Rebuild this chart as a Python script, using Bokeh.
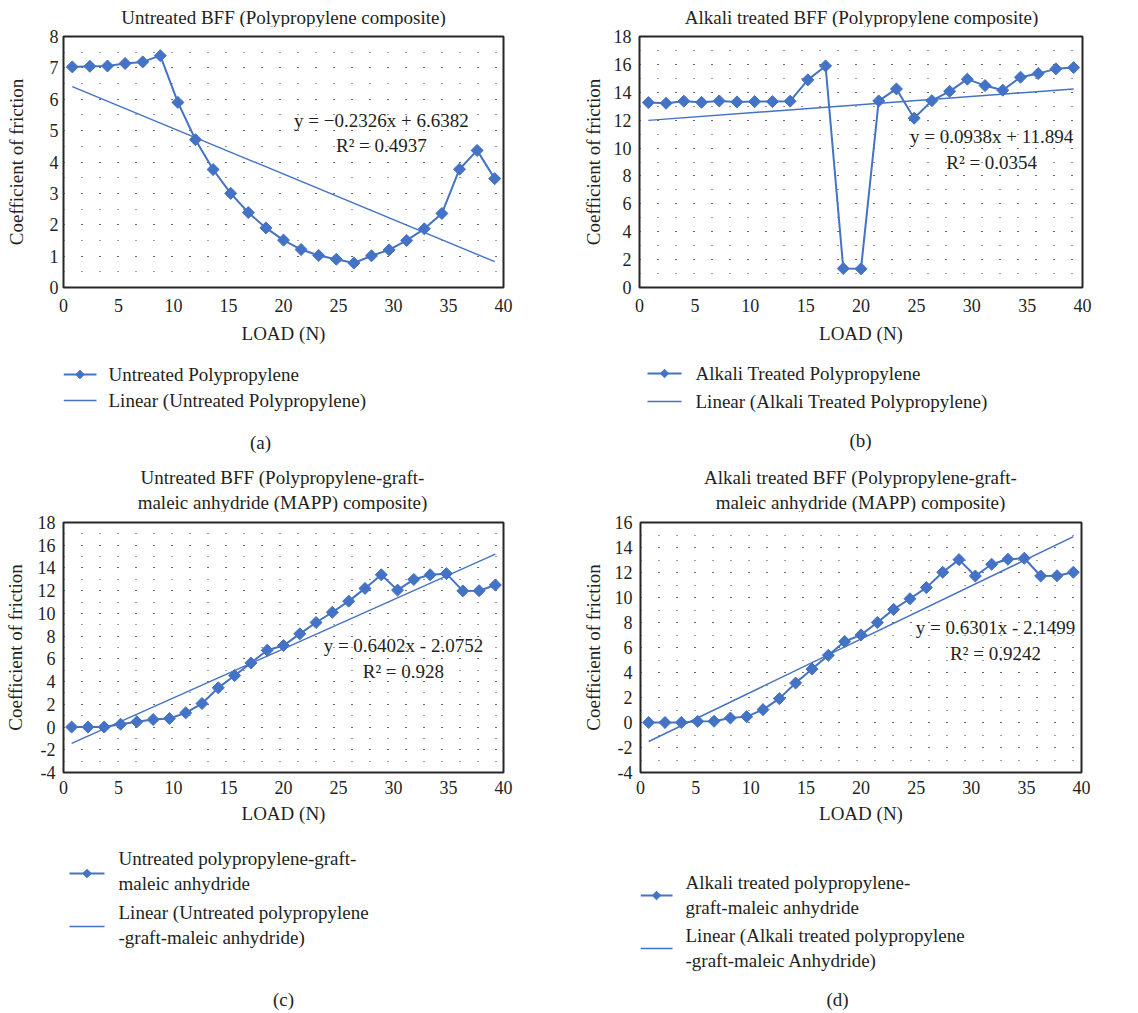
import math
from bokeh.plotting import figure
from bokeh.models import Range1d, SingleIntervalTicker, Label
from bokeh.core.properties import value
from bokeh.layouts import column, row
from bokeh.embed import file_html
from bokeh.resources import INLINE

# ---------------- data ----------------
load_a = [0.8, 2.4, 4.0, 5.6, 7.2, 8.8, 10.4, 12.0, 13.6, 15.2, 16.8, 18.4, 20.0,
          21.6, 23.2, 24.8, 26.4, 28.0, 29.6, 31.2, 32.8, 34.4, 36.0, 37.6, 39.2]
load_c = [0.74, 2.22, 3.70, 5.19, 6.67, 8.15, 9.63, 11.11, 12.59, 14.07, 15.56, 17.04,
          18.52, 20.00, 21.48, 22.96, 24.44, 25.93, 27.41, 28.89, 30.37, 31.85, 33.33,
          34.81, 36.30, 37.78, 39.26]

untreated_pp = [7.03, 7.05, 7.06, 7.14, 7.19, 7.39, 5.90, 4.71, 3.76, 3.00, 2.39, 1.90,
                1.51, 1.21, 1.02, 0.90, 0.78, 1.01, 1.20, 1.50, 1.87, 2.36, 3.77, 4.37, 3.47]
alkali_pp = [13.26, 13.21, 13.36, 13.28, 13.38, 13.31, 13.33, 13.33, 13.36, 14.89, 15.89,
             1.36, 1.34, 13.38, 14.24, 12.14, 13.40, 14.07, 14.94, 14.48, 14.15, 15.08,
             15.34, 15.68, 15.77]
untreated_mapp = [0.0, 0.0, 0.0, 0.25, 0.46, 0.66, 0.75, 1.25, 2.07, 3.45, 4.53, 5.64,
                  6.76, 7.17, 8.20, 9.20, 10.10, 11.08, 12.20, 13.40, 12.05, 12.99, 13.40,
                  13.50, 11.98, 12.00, 12.50]
alkali_mapp = [0.0, 0.0, 0.0, 0.09, 0.10, 0.36, 0.47, 1.03, 1.91, 3.16, 4.28, 5.38, 6.48,
               7.01, 8.00, 9.05, 9.90, 10.79, 12.02, 13.03, 11.72, 12.66, 13.06, 13.14,
               11.72, 11.74, 12.02]

fit_a = (-0.2326, 6.6382)
fit_b = (0.0938, 11.894)
fit_c = (0.6402, -2.0752)
fit_d = (0.6301, -2.1499)

eq_a = ["y = \u22120.2326x + 6.6382", "R\u00b2 = 0.4937"]
eq_b = ["y = 0.0938x + 11.894", "R\u00b2 = 0.0354"]
eq_c = ["y = 0.6402x - 2.0752", "R\u00b2 = 0.928"]
eq_d = ["y = 0.6301x - 2.1499", "R\u00b2 = 0.9242"]

title_a = ["Untreated BFF (Polypropylene composite)"]
title_b = ["Alkali treated BFF (Polypropylene composite)"]
title_c = ["Untreated BFF (Polypropylene-graft-", "maleic anhydride (MAPP) composite)"]
title_d = ["Alkali treated BFF (Polypropylene-graft-", "maleic anhydride (MAPP) composite)"]
legend_a = [["Untreated Polypropylene"], ["Linear (Untreated Polypropylene)"]]
legend_b = [["Alkali Treated Polypropylene"], ["Linear (Alkali Treated Polypropylene)"]]
legend_c = [["Untreated polypropylene-graft-", "maleic anhydride"],
            ["Linear (Untreated polypropylene", "-graft-maleic anhydride)"]]
legend_d = [["Alkali treated polypropylene-", "graft-maleic anhydride"],
            ["Linear (Alkali treated polypropylene", "-graft-maleic Anhydride)"]]
captions = ["(a)", "(b)", "(c)", "(d)"]
x_label = "LOAD (N)"
y_label = "Coefficient of friction"
neg_tick_text = {-2: "-2", -4: "-4"}

FONT = "Liberation Serif"
BLUE = "#4472C4"
TXT = "#231F20"


def strip(width, height, left, right):
    """An axis-less figure whose data units are the strip's own pixels
    (x from strip left, y downward)."""
    return figure(width=width, height=height, x_range=Range1d(left, width - right),
                  y_range=Range1d(height, 0), output_backend="svg",
                  toolbar_location=None, x_axis_type=None, y_axis_type=None,
                  min_border_left=left, min_border_right=right, min_border_top=0,
                  min_border_bottom=0, outline_line_color=None)


def title_panel(width, height, left, right, lines, ys, cx):
    f = strip(width, height, left, right)
    f.text(x=[cx] * len(lines), y=ys, text=lines, text_font=value(FONT),
           text_font_size="19px", text_color=TXT, text_baseline="middle",
           text_align="center")
    return f


def plot_panel(width, height, borders, xs, ys, yr, ystep, fit, eq, eq_pos,
               ylab_standoff, ytick_standoff, xtick_standoff, xlab_standoff):
    left, right, top, bottom = borders
    p = figure(width=width, height=height, x_range=Range1d(0, 40),
               y_range=Range1d(*yr), output_backend="svg", toolbar_location=None,
               min_border_left=left, min_border_right=right,
               min_border_top=top, min_border_bottom=bottom)
    p.outline_line_color = "#262626"
    p.outline_line_width = 2
    p.background_fill_color = "white"
    p.border_fill_color = "white"

    p.xaxis.ticker = SingleIntervalTicker(interval=5, num_minor_ticks=0)
    p.yaxis.ticker = SingleIntervalTicker(interval=ystep, num_minor_ticks=2)
    p.yaxis.major_label_overrides = {k: v for k, v in neg_tick_text.items()
                                     if yr[0] <= k <= yr[1]}
    for ax in (p.xaxis, p.yaxis):
        ax.axis_line_color = None
        ax.major_tick_line_color = None
        ax.minor_tick_line_color = None
        ax.major_tick_out = 0
        ax.major_tick_in = 0
        ax.minor_tick_out = 0
        ax.minor_tick_in = 0
        ax.major_label_text_font = FONT
        ax.major_label_text_font_size = "18px"
        ax.major_label_text_color = TXT
        ax.axis_label_text_font = FONT
        ax.axis_label_text_font_size = "19px"
        ax.axis_label_text_font_style = "normal"
        ax.axis_label_text_color = TXT
    p.xaxis.axis_label = x_label
    p.yaxis.axis_label = y_label
    p.xaxis.major_label_standoff = xtick_standoff
    p.xaxis.axis_label_standoff = xlab_standoff
    p.yaxis.major_label_standoff = ytick_standoff
    p.yaxis.axis_label_standoff = ylab_standoff

    p.xgrid.grid_line_color = None
    p.ygrid.grid_line_color = "#3a3a3a"
    p.ygrid.grid_line_dash = "1 17"
    p.ygrid.minor_grid_line_color = "#3a3a3a"
    p.ygrid.minor_grid_line_dash = "1 17"

    p.line(xs, ys, line_color=BLUE, line_width=2)
    p.scatter(xs, ys, marker="square", angle=math.pi / 4, size=8.5,
              fill_color=BLUE, line_color=BLUE)
    n = len(xs)
    slope, icpt = fit
    p.line([xs[0], xs[-1]], [slope * 1 + icpt, slope * n + icpt],
           line_color=BLUE, line_width=1.4)

    for txt, yy in zip(eq, eq_pos[1]):
        p.add_layout(Label(x=eq_pos[0], y=yy, text=txt, text_align="center",
                           text_baseline="middle", text_font=FONT,
                           text_font_size="19px", text_color=TXT))
    return p


def legend_panel(width, height, left, right, labels, sample_x, sample_y, text_x,
                 text_ys, cap, cap_xy):
    """Legend entries and the panel caption under a chart."""
    f = strip(width, height, left, right)
    x0, x1 = sample_x
    # series entry: line with diamond
    f.line([x0, x1], [sample_y[0], sample_y[0]], line_color=BLUE, line_width=2)
    f.scatter([(x0 + x1) / 2], [sample_y[0]], marker="square", angle=math.pi / 4,
              size=6, fill_color=BLUE, line_color=BLUE)
    # trendline entry
    f.line([x0, x1], [sample_y[1], sample_y[1]], line_color=BLUE, line_width=1.4)
    txt, ys_ = [], []
    for lines, yl in zip(labels, text_ys):
        for t, y in zip(lines, yl):
            txt.append(t)
            ys_.append(y)
    f.text(x=[text_x] * len(txt), y=ys_, text=txt, text_font=value(FONT),
           text_font_size="19px", text_color=TXT, text_baseline="middle",
           text_align="left")
    f.text(x=[cap_xy[0]], y=[cap_xy[1]], text=[cap], text_font=value(FONT),
           text_font_size="19px", text_color=TXT, text_baseline="middle",
           text_align="center")
    return f


# top row: title strip 0..27, plot 27..350, legend strip 350..462
ta = title_panel(570, 27, 63, 67, title_a, [17], 283)
tb = title_panel(568, 27, 69, 56, title_b, [17], 291)
pa = plot_panel(570, 323, (63, 67, 9, 63), load_a, untreated_pp, (0, 8), 1,
                fit_a, eq_a, (28.9, [5.32, 4.53]), 20, 5, 11, 8)
pb = plot_panel(568, 323, (69, 56, 9, 63), load_a, alkali_pp, (0, 18), 2,
                fit_b, eq_b, (31.8, [10.83, 8.96]), 7, 8, 11, 8)
la = legend_panel(570, 112, 63, 67, legend_a, (63, 96), (24, 50), 108, [[24], [50]],
                  captions[0], (260, 92))
lb = legend_panel(568, 112, 69, 56, legend_b, (77, 111), (23, 51), 125, [[23], [51]],
                  captions[1], (290, 90))

# bottom row: title strip 462..512, plot 512..835, legend strip 835..1012
tc = title_panel(570, 50, 63, 67, title_c, [15, 40], 282)
td = title_panel(568, 50, 70, 57, title_d, [15, 40], 290)
pc = plot_panel(570, 323, (63, 67, 10, 63), load_c, untreated_mapp, (-4, 18), 2,
                fit_c, eq_c, (30.9, [7.17, 4.88]), 9, 8, 8, 6)
pd = plot_panel(568, 323, (70, 57, 10, 63), load_c, alkali_mapp, (-4, 16), 2,
                fit_d, eq_d, (32.2, [7.57, 5.56]), 8, 8, 8, 6)
lc = legend_panel(570, 177, 63, 67, legend_c, (69, 104), (38, 91), 118,
                  [[23, 48], [77, 102]], captions[2], (283, 164))
ld = legend_panel(568, 177, 70, 57, legend_d, (70, 102), (60, 113), 115,
                  [[47, 72], [100, 125]], captions[3], (267, 164))

layout = column(row(column(ta, pa, la), column(tb, pb, lb)),
                row(column(tc, pc, lc), column(td, pd, ld)))
open("out.html", "w").write(file_html(layout, INLINE))
